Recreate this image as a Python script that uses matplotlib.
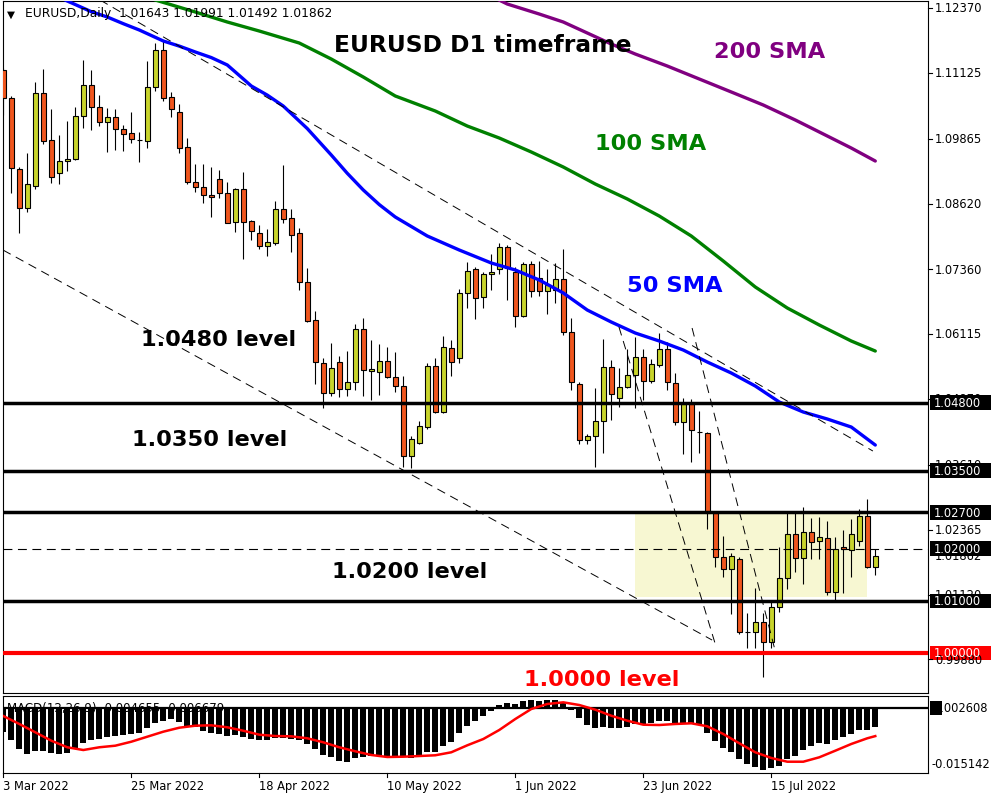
import matplotlib
matplotlib.use("Agg")
import matplotlib.pyplot as plt
from matplotlib.patches import Rectangle
import numpy as np

# ---------------- data ----------------
date_labels = ["3 Mar 2022", "25 Mar 2022", "18 Apr 2022", "10 May 2022",
               "1 Jun 2022", "23 Jun 2022", "15 Jul 2022"]
date_bars = [0, 16, 32, 48, 64, 80, 96]

opens = [1.1118, 1.1064, 1.0928, 1.0853, 1.0896, 1.1074, 1.0984, 1.0921, 1.0944, 1.0947,
         1.1030, 1.1089, 1.1047, 1.1018, 1.1028, 1.1005, 1.0997, 1.0984, 1.0982, 1.1086,
         1.1157, 1.1066, 1.1038, 1.0970, 1.0903, 1.0894, 1.0878, 1.0909, 1.0882, 1.0827,
         1.0890, 1.0828, 1.0806, 1.0781, 1.0786, 1.0852, 1.0834, 1.0806, 1.0712, 1.0639,
         1.0556, 1.0499, 1.0558, 1.0506, 1.0520, 1.0621, 1.0540, 1.0539, 1.0560, 1.0529,
         1.0512, 1.0378, 1.0403, 1.0433, 1.0550, 1.0462, 1.0585, 1.0566, 1.0690, 1.0737,
         1.0683, 1.0727, 1.0737, 1.0779, 1.0731, 1.0646, 1.0746, 1.0719, 1.0694, 1.0696,
         1.0717, 1.0616, 1.0516, 1.0409, 1.0416, 1.0445, 1.0549, 1.0489, 1.0510, 1.0533,
         1.0568, 1.0522, 1.0552, 1.0583, 1.0518, 1.0443, 1.0478, 1.0424, 1.0422, 1.0269,
         1.0184, 1.0161, 1.0180, 1.0040, 1.0040, 1.0059, 1.0021, 1.0088, 1.0144, 1.0228,
         1.0182, 1.0232, 1.0215, 1.0221, 1.0117, 1.0203, 1.0198, 1.0215, 1.0263, 1.01643]
highs = [1.1122, 1.1068, 1.0932, 1.0959, 1.1095, 1.1120, 1.1043, 1.0993, 1.1020, 1.1047,
         1.1137, 1.1118, 1.1070, 1.1045, 1.1043, 1.1013, 1.1038, 1.0999, 1.1135, 1.1170,
         1.1176, 1.1076, 1.1053, 1.0988, 1.0938, 1.0938, 1.0932, 1.0926, 1.0903, 1.0892,
         1.0923, 1.0830, 1.0821, 1.0813, 1.0867, 1.0936, 1.0852, 1.0815, 1.0738, 1.0656,
         1.0566, 1.0595, 1.0570, 1.0579, 1.0631, 1.0643, 1.0600, 1.0593, 1.0587, 1.0577,
         1.0531, 1.0416, 1.0445, 1.0556, 1.0566, 1.0608, 1.0600, 1.0698, 1.0750, 1.0740,
         1.0731, 1.0765, 1.0786, 1.0783, 1.0740, 1.0750, 1.0752, 1.0752, 1.0737, 1.0748,
         1.0775, 1.0643, 1.0520, 1.0420, 1.0508, 1.0602, 1.0562, 1.0547, 1.0583, 1.0606,
         1.0583, 1.0564, 1.0614, 1.0596, 1.0537, 1.0489, 1.0487, 1.0464, 1.0424, 1.0270,
         1.0224, 1.0192, 1.0184, 1.0077, 1.0125, 1.0077, 1.0102, 1.0203, 1.0269, 1.0269,
         1.0280, 1.0259, 1.0261, 1.0253, 1.0222, 1.0236, 1.0257, 1.0276, 1.0295, 1.01991]
lows = [1.1032, 1.0882, 1.0806, 1.0846, 1.0890, 1.0976, 1.0901, 1.0900, 1.0924, 1.0946,
        1.1007, 1.1003, 1.1011, 1.0961, 1.0965, 1.0963, 1.0978, 1.0942, 1.0969, 1.1078,
        1.1059, 1.1028, 1.0959, 1.0900, 1.0884, 1.0863, 1.0836, 1.0873, 1.0824, 1.0807,
        1.0756, 1.0792, 1.0775, 1.0761, 1.0783, 1.0825, 1.0769, 1.0696, 1.0635, 1.0516,
        1.0470, 1.0493, 1.0491, 1.0493, 1.0504, 1.0493, 1.0485, 1.0495, 1.0527, 1.0501,
        1.0357, 1.0355, 1.0401, 1.0430, 1.0460, 1.0460, 1.0531, 1.0556, 1.0662, 1.0641,
        1.0662, 1.0696, 1.0727, 1.0677, 1.0625, 1.0644, 1.0683, 1.0685, 1.0650, 1.0671,
        1.0610, 1.0504, 1.0401, 1.0401, 1.0357, 1.0384, 1.0447, 1.0472, 1.0508, 1.0470,
        1.0485, 1.0518, 1.0549, 1.0504, 1.0437, 1.0382, 1.0366, 1.0384, 1.0238, 1.0165,
        1.0146, 1.0075, 1.0036, 1.0010, 1.0010, 0.9954, 1.0010, 1.0079, 1.0123, 1.0155,
        1.0132, 1.0180, 1.0180, 1.0111, 1.0098, 1.0115, 1.0146, 1.0205, 1.0163, 1.01492]
closes = [1.1064, 1.0930, 1.0853, 1.0900, 1.1074, 1.0982, 1.0913, 1.0944, 1.0947, 1.1030,
          1.1089, 1.1047, 1.1018, 1.1028, 1.1005, 1.0995, 1.0986, 1.0984, 1.1086, 1.1157,
          1.1064, 1.1043, 1.0969, 1.0903, 1.0894, 1.0878, 1.0875, 1.0882, 1.0825, 1.0890,
          1.0827, 1.0809, 1.0781, 1.0788, 1.0852, 1.0832, 1.0802, 1.0712, 1.0637, 1.0558,
          1.0499, 1.0547, 1.0506, 1.0520, 1.0621, 1.0543, 1.0544, 1.0560, 1.0529, 1.0512,
          1.0378, 1.0410, 1.0435, 1.0550, 1.0462, 1.0587, 1.0558, 1.0690, 1.0733, 1.0681,
          1.0727, 1.0731, 1.0779, 1.0738, 1.0646, 1.0746, 1.0694, 1.0694, 1.0706, 1.0717,
          1.0616, 1.0520, 1.0409, 1.0416, 1.0445, 1.0549, 1.0497, 1.0510, 1.0533, 1.0568,
          1.0522, 1.0554, 1.0583, 1.0520, 1.0443, 1.0478, 1.0428, 1.0424, 1.0269, 1.0184,
          1.0161, 1.0186, 1.0040, 1.0040, 1.0059, 1.0021, 1.0088, 1.0144, 1.0228, 1.0182,
          1.0232, 1.0213, 1.0222, 1.0117, 1.0199, 1.0199, 1.0228, 1.0263, 1.0165, 1.01862]

sma50_bars = [7.5, 8, 11, 13, 15, 17, 20, 22, 24, 26, 28, 30, 31, 33, 35, 38, 41, 43, 45,
              47, 49, 53, 57, 61, 64, 67, 70, 73, 76, 79, 82, 85, 88, 91, 94, 97, 100, 103,
              106, 109]
sma50 = [1.1254, 1.12505, 1.12300, 1.12198, 1.12070, 1.11949, 1.11738, 1.11640, 1.11527,
         1.11420, 1.11278, 1.11010, 1.10875, 1.10700, 1.10490, 1.10058, 1.09551, 1.09200,
         1.08880, 1.08600, 1.08362, 1.07998, 1.07729, 1.07480, 1.07346, 1.07154, 1.06905,
         1.06578, 1.06348, 1.06137, 1.05984, 1.05811, 1.05581, 1.05370, 1.05121, 1.04814,
         1.04622, 1.04488, 1.04334, 1.03989]
sma100_bars = [18.5, 19, 24, 28, 32, 37, 41, 45, 49, 54, 58, 62, 66, 70, 74, 78, 82, 86, 90,
               94, 98, 102, 106, 109]
sma100 = [1.1256, 1.12524, 1.12294, 1.12102, 1.11929, 1.11699, 1.11392, 1.11047, 1.10683,
          1.10395, 1.10107, 1.09877, 1.09609, 1.09321, 1.08995, 1.08708, 1.08381, 1.07998,
          1.07518, 1.07020, 1.06617, 1.06291, 1.05984, 1.05792]
sma200_bars = [61.5, 63, 67, 70, 73, 76, 79, 83, 87, 91, 95, 99, 103, 106, 109]
sma200 = [1.1256, 1.12447, 1.12255, 1.12102, 1.11891, 1.11680, 1.11488, 1.11258, 1.11009,
          1.10760, 1.10510, 1.10223, 1.09916, 1.09685, 1.09436]

macd_hist = [-0.00565, -0.00752, -0.00969, -0.01086, -0.01023, -0.01009, -0.01056, -0.01086,
             -0.01056, -0.00953, -0.00836, -0.00759, -0.00729, -0.00682, -0.00666, -0.00642,
             -0.00619, -0.00589, -0.00486, -0.00355, -0.00308, -0.00276, -0.00339, -0.00425,
             -0.00462, -0.00542, -0.00589, -0.00612, -0.00659, -0.00642, -0.00682, -0.00729,
             -0.00752, -0.00752, -0.00719, -0.00719, -0.00736, -0.00759, -0.00852, -0.00969,
             -0.01102, -0.01163, -0.01242, -0.01266, -0.01186, -0.01163, -0.01140, -0.01109,
             -0.01126, -0.01126, -0.01163, -0.01186, -0.01133, -0.01046, -0.01032, -0.00892,
             -0.00799, -0.00603, -0.00432, -0.00308, -0.00192, -0.00075, 0.00051, 0.00105,
             0.00082, 0.00159, 0.00182, 0.00159, 0.00182, 0.00175, 0.00098, -0.00051,
             -0.00245, -0.00402, -0.00479, -0.00455, -0.00479, -0.00479, -0.00448, -0.00385,
             -0.00402, -0.00362, -0.00308, -0.00308, -0.00369, -0.00369, -0.00385, -0.00402,
             -0.00603, -0.00789, -0.00946, -0.01046, -0.01203, -0.01319, -0.01383, -0.01460,
             -0.01420, -0.01359, -0.01210, -0.01126, -0.00993, -0.00906, -0.00829, -0.00852,
             -0.00752, -0.00696, -0.00619, -0.00525, -0.00518, -0.004655]
signal_bars = [0, 2, 4, 6, 8, 10, 12, 14, 16, 18, 20, 22, 24, 26, 28, 30, 32, 34, 36, 38, 40,
               42, 44, 46, 48, 50, 52, 54, 56, 58, 60, 62, 64, 66, 68, 70, 72, 74, 76, 78, 80,
               82, 84, 86, 88, 90, 92, 94, 96, 98, 100, 102, 104, 106, 108, 109]
signal = [-0.00199, -0.00385, -0.00579, -0.00775, -0.00929, -0.00993, -0.00929, -0.00892,
          -0.00799, -0.00682, -0.00565, -0.00472, -0.00425, -0.00416, -0.00462, -0.00542,
          -0.00635, -0.00666, -0.00673, -0.00719, -0.00813, -0.00929, -0.01023, -0.01109,
          -0.01156, -0.01149, -0.01133, -0.01116, -0.01046, -0.00883, -0.00736, -0.00525,
          -0.00269, -0.00035, 0.00082, 0.00121, 0.00058, -0.00051, -0.00192, -0.00308,
          -0.00402, -0.00409, -0.00385, -0.00369, -0.00439, -0.00619, -0.00836, -0.01046,
          -0.01179, -0.01266, -0.01266, -0.01163, -0.01009, -0.00852, -0.00719, -0.006679]

levels_black = [1.0480, 1.0350, 1.0270, 1.0100]
level_red = 1.0000
level_dashed = 1.0200
axis_ticks = ["1.12370", "1.11125", "1.09865", "1.08620", "1.07360", "1.06115",
              "1.04870", "1.03610", "1.02365", "1.01120", "0.99880"]
level_boxes = ["1.04800", "1.03500", "1.02700", "1.02000", "1.01000"]

# trend lines (bar index, price)
trend_lines = [((12.1, 1.12524), (108.7, 1.03874)),
               ((-0.04, 1.07729), (88.6, 1.00249)),
               ((76.96, 1.06252), (88.96, 1.00192)),
               ((86.1, 1.06233), (96.46, 1.00058))]
zone = (78.95, 107.95, 1.0107, 1.0270)

BULL = "#c8d42c"
BEAR = "#f0561e"

# ---------------- figure ----------------
W, H = 1000, 800
fig = plt.figure(figsize=(10, 8), dpi=100)
fig.patch.set_facecolor("white")


def fx(px):
    return px / W


def fy(py):
    return 1 - py / H


TOP, BOT = 1.0, 692.7
ax = fig.add_axes([fx(2.5), fy(BOT), fx(928) - fx(2.5), fy(TOP) - fy(BOT)])
YLO, YHI = 0.99239, 1.12505
ax.set_xlim(-0.1, 115.59)
ax.set_ylim(YLO, YHI)
ax.set_xticks([])
ax.set_yticks([])
for s in ax.spines.values():
    s.set_linewidth(0.8)
    s.set_color("black")


def p2py(p):
    return TOP + (YHI - p) / (YHI - YLO) * (BOT - TOP)


o = np.array(opens)
c = np.array(closes)
hi = np.array(highs)
lo = np.array(lows)
xs = np.arange(len(o))

# zone rectangle
ax.add_patch(Rectangle((zone[0], zone[2]), zone[1] - zone[0], zone[3] - zone[2],
                       facecolor="#f7f7d2", edgecolor="none", zorder=1))

# candles
ax.vlines(xs, lo, hi, color="black", lw=0.8, zorder=2)
cols = [BULL if cc > oo else BEAR for oo, cc in zip(o, c)]
ax.bar(xs, np.abs(c - o), bottom=np.minimum(o, c), width=0.62, color=cols,
       edgecolor="black", linewidth=0.8, zorder=3)

# moving averages
ax.plot(sma200_bars, sma200, color="#800080", lw=2.4, zorder=4, solid_capstyle="round",
        solid_joinstyle="round")
ax.plot(sma100_bars, sma100, color="#008000", lw=2.4, zorder=4, solid_capstyle="round",
        solid_joinstyle="round")
ax.plot(sma50_bars, sma50, color="#0000ff", lw=2.4, zorder=4, solid_capstyle="round",
        solid_joinstyle="round")

# trend lines
for (x0, y0), (x1, y1) in trend_lines:
    ax.plot([x0, x1], [y0, y1], color="black", lw=0.7, ls=(0, (9, 6)), zorder=4)

# levels
for lv in levels_black:
    ax.axhline(lv, color="black", lw=2.5, zorder=5)
ax.axhline(level_red, color="#ff0000", lw=3.0, zorder=5)
ax.axhline(level_dashed, color="black", lw=0.8, ls=(0, (8, 5)), zorder=5)

# big annotations
big = dict(fontsize=16.2, fontweight="bold", family="DejaVu Sans", ha="left", va="baseline")
fig.text(fx(334), fy(51.5), "EURUSD D1 timeframe", color="black",
         **dict(big, fontsize=16.8))
fig.text(fx(714), fy(57.5), "200 SMA", color="#800080", **big)
fig.text(fx(595), fy(150.5), "100 SMA", color="#008000", **big)
fig.text(fx(627), fy(291.5), "50 SMA", color="#0000ff", **big)
fig.text(fx(141), fy(345.5), "1.0480 level", color="black", **big)
fig.text(fx(132), fy(445.5), "1.0350 level", color="black", **big)
fig.text(fx(332), fy(578.5), "1.0200 level", color="black", **big)
fig.text(fx(524), fy(685.5), "1.0000 level", color="#ff0000", **big)

# header
fig.text(fx(7), fy(17.5), "\u25BC", fontsize=7.5, color="black", va="baseline", ha="left")
fig.text(fx(25), fy(17.5), "EURUSD,Daily  1.01643 1.01991 1.01492 1.01862",
         fontsize=8.8, color="black", va="baseline", ha="left")

# right price scale
SMALL = 8.3
for t in axis_ticks:
    py = p2py(float(t))
    fig.add_artist(plt.Line2D([fx(928), fx(932)], [fy(py), fy(py)], color="black", lw=0.8))
    fig.text(fx(935), fy(py + 4.3), t, fontsize=SMALL, color="black", va="baseline", ha="left")
# current price label (mostly hidden under the 1.02000 box)
py = p2py(closes[-1])
fig.text(fx(935), fy(py + 4.3), "%.5f" % closes[-1], fontsize=SMALL, color="black",
         va="baseline", ha="left")


def box_label(txt, price, color):
    py = p2py(price)
    fig.add_artist(Rectangle((fx(930), fy(py + 7.3)), fx(991) - fx(930), 14.6 / H,
                             facecolor=color, edgecolor="none", transform=fig.transFigure))
    fig.text(fx(934), fy(py + 4.3), txt, fontsize=SMALL, color="white", va="baseline",
             ha="left")


for t in level_boxes:
    box_label(t, float(t), "black")
box_label("1.00000", level_red, "#ff0000")

# ---------------- MACD panel ----------------
MT, MB = 695.7, 773.3
mx = fig.add_axes([fx(2.5), fy(MB), fx(928) - fx(2.5), fy(MT) - fy(MB)])
mx.set_xlim(-0.1, 115.59)
mx.set_ylim(-0.015367, 0.002756)
mx.set_xticks([])
mx.set_yticks([])
for s in mx.spines.values():
    s.set_linewidth(0.8)
    s.set_color("black")
mx.text(0.005, -0.00105, "MACD(12,26,9) -0.004655 -0.006679", fontsize=8.5,
        color="#000000", transform=mx.get_yaxis_transform(), va="baseline", ha="left",
        zorder=1)
mx.bar(xs, macd_hist, width=0.74, color="black", zorder=2)
mx.axhline(0, color="black", lw=1.6, zorder=3)
mx.plot(signal_bars, signal, color="#ff0000", lw=1.8, zorder=4)

# MACD scale labels
fig.add_artist(Rectangle((fx(930), fy(714.5)), fx(942) - fx(930), 14 / H,
                         facecolor="black", edgecolor="none", transform=fig.transFigure))
fig.text(fx(933), fy(711.5), "0.002608", fontsize=SMALL, color="black", va="baseline")
fig.text(fx(932), fy(767.5), "-0.015142", fontsize=SMALL, color="black", va="baseline")

# date axis
for b, lab in zip(date_bars, date_labels):
    px = 3.3 + 8 * b
    fig.add_artist(plt.Line2D([fx(px), fx(px)], [fy(MB), fy(MB + 4)], color="black", lw=0.8))
    fig.text(fx(px), fy(790), lab, fontsize=SMALL, color="black", va="baseline", ha="left")

fig.savefig("out.png", dpi=100)
